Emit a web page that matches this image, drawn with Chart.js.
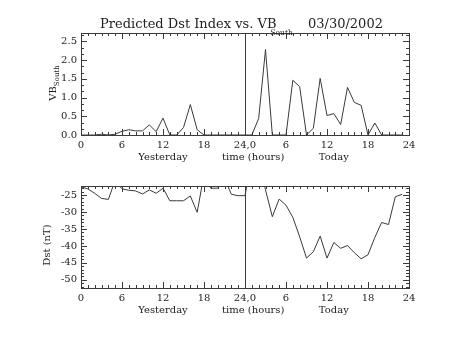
<!DOCTYPE html>
<html>
<head>
<meta charset="utf-8">
<script src="https://cdn.jsdelivr.net/npm/chart.js@4.4.1/dist/chart.umd.min.js"></script>
<style>
  html, body { margin: 0; padding: 0; background: #fff; }
  #wrap { position: relative; width: 453px; height: 340px; }
  .box { position: absolute; left: 0; width: 453px; height: 170px; }
</style>
</head>
<body>
<div id="wrap">
  <div class="box" style="top:0"><canvas id="vb-chart" width="453" height="170"></canvas></div>
  <div class="box" style="top:170px"><canvas id="dst-chart" width="453" height="170"></canvas></div>
</div>
<script>
// Hours since start of yesterday (0-23 yesterday, 24-47 today)
const hours = [0, 1, 2, 3, 4, 5, 6, 7, 8, 9, 10, 11, 12, 13, 14, 15, 16, 17, 18, 19, 20, 21, 22, 23,
               24, 25, 26, 27, 28, 29, 30, 31, 32, 33, 34, 35, 36, 37, 38, 39, 40, 41, 42, 43, 44, 45, 46, 47];

// VB south values
const vbSouth = [0, 0, 0, 0.02, 0, 0.02, 0.1, 0.14, 0.11, 0.11, 0.27, 0.09, 0.45, 0, 0, 0.2, 0.81, 0.14, 0, 0, 0, 0, 0, 0,
                 0, 0, 0.44, 2.28, 0, 0, 0, 1.46, 1.29, 0, 0.18, 1.51, 0.52, 0.57, 0.28, 1.27, 0.87, 0.79, 0, 0.32, 0, 0, 0, 0];

// Predicted Dst (nT)
const dst = [-22.6, -23.2, -24.5, -26.0, -26.3, -20.7, -23.2, -23.6, -23.8, -24.7, -23.5, -24.5, -23.0, -26.7, -26.7, -26.7, -25.3, -30.1, -19.0, -23.0, -23.0, -20.0, -24.8, -25.2,
             -25.2, -14.0, -15.0, -23.5, -31.4, -26.2, -28.0, -31.6, -37.3, -43.6, -41.7, -37.1, -43.6, -39.0, -40.7, -39.9, -42.0, -43.8, -42.6, -37.5, -33.1, -33.7, -25.5, -24.8];

// Tick labels
const hourTicks = [0, 6, 12, 18, 24, 30, 36, 42, 48];
const hourLabels = ["0", "6", "12", "18", "24,0", "6", "12", "18", "24"];
const vbTicks = [0, 0.5, 1.0, 1.5, 2.0, 2.5];
const dstTicks = [-50, -45, -40, -35, -30, -25];

Chart.defaults.font.family = "'DejaVu Serif', serif";
Chart.defaults.font.size = 10;
Chart.defaults.color = "#222";

const INK = "#3a3a3a";

// IDL style frame: box, inward ticks on all sides, day divider and labels
const idlFrame = {
  id: "idlFrame",
  afterDraw(chart, args, opts) {
    const { ctx, chartArea: a } = chart;
    const xs = chart.scales.x, ys = chart.scales.y;
    ctx.save();
    ctx.strokeStyle = INK;
    ctx.lineWidth = 1;
    ctx.strokeRect(a.left + 0.5, a.top + 0.5, a.right - a.left, a.bottom - a.top);

    // x ticks (top and bottom)
    ctx.beginPath();
    const nx = Math.round((xs.max - xs.min) / opts.xMinor);
    for (let i = 0; i <= nx; i++) {
      const v = xs.min + i * opts.xMinor;
      const px = Math.round(xs.getPixelForValue(v)) + 0.5;
      const len = (i % opts.xPer === 0) ? 6 : 3;
      ctx.moveTo(px, a.bottom); ctx.lineTo(px, a.bottom - len);
      ctx.moveTo(px, a.top); ctx.lineTo(px, a.top + len);
    }
    // y ticks (left and right)
    const start = Math.floor(ys.min / opts.yMajor) * opts.yMajor;
    const ny = Math.round((ys.max - start) / opts.yMajor * opts.yPer);
    for (let i = 0; i <= ny; i++) {
      const v = start + i * opts.yMajor / opts.yPer;
      if (v < ys.min - 1e-9 || v > ys.max + 1e-9) continue;
      const py = Math.round(ys.getPixelForValue(v)) + 0.5;
      const len = (i % opts.yPer === 0) ? 6 : 3;
      ctx.moveTo(a.left, py); ctx.lineTo(a.left + len, py);
      ctx.moveTo(a.right, py); ctx.lineTo(a.right - len, py);
    }
    ctx.stroke();

    // divider between yesterday and today
    const dx = Math.round(xs.getPixelForValue(24)) + 0.5;
    ctx.beginPath();
    ctx.moveTo(dx, a.top); ctx.lineTo(dx, a.bottom);
    ctx.stroke();

    // x titles
    ctx.fillStyle = "#222";
    ctx.font = "10px 'DejaVu Serif'";
    ctx.textAlign = "center";
    ctx.textBaseline = "middle";
    const ly = a.bottom + 22.5;
    ctx.fillText("Yesterday", xs.getPixelForValue(12), ly);
    ctx.fillText("time (hours)", xs.getPixelForValue(25.2), ly);
    ctx.fillText("Today", xs.getPixelForValue(37), ly);

    // y title (rotated, optional subscript)
    ctx.save();
    ctx.translate(opts.yTitleX, (a.top + a.bottom) / 2 + opts.yTitleShift);
    ctx.rotate(-Math.PI / 2);
    ctx.textAlign = "left";
    ctx.textBaseline = "alphabetic";
    ctx.font = "10px 'DejaVu Serif'";
    const wMain = ctx.measureText(opts.yTitle).width;
    ctx.font = "7px 'DejaVu Serif'";
    const wSub = opts.ySub ? ctx.measureText(opts.ySub).width : 0;
    let x0 = -(wMain + wSub) / 2;
    ctx.font = "10px 'DejaVu Serif'";
    ctx.fillText(opts.yTitle, x0, 0);
    if (opts.ySub) {
      ctx.font = "7px 'DejaVu Serif'";
      ctx.fillText(opts.ySub, x0 + wMain, 3);
    }
    ctx.restore();

    // main title
    if (opts.title) {
      ctx.textAlign = "left";
      ctx.textBaseline = "alphabetic";
      ctx.font = "13px 'DejaVu Serif'";
      ctx.fillText(opts.title, 100, 28);
      const w = ctx.measureText(opts.title).width;
      ctx.font = "7.5px 'DejaVu Serif'";
      ctx.fillText("South", 100 + w - 6, 35);
      ctx.font = "13px 'DejaVu Serif'";
      ctx.fillText(opts.date, 308, 28);
    }
    ctx.restore();
  }
};

function makeChart(canvasId, values, yMin, yMax, yTicks, yFmt, padTop, xHeight, frameOpts) {
  const ctx = document.getElementById(canvasId).getContext("2d");
  return new Chart(ctx, {
    type: "line",
    data: {
      datasets: [{
        data: hours.map((h, i) => ({ x: h, y: values[i] })),
        borderColor: INK,
        borderWidth: 1,
        pointRadius: 0,
        tension: 0,
        fill: false,
        clip: 0
      }]
    },
    options: {
      responsive: false,
      animation: false,
      devicePixelRatio: 1,
      layout: { padding: { left: 0, right: 44, top: padTop, bottom: 0 } },
      plugins: {
        legend: { display: false },
        tooltip: { enabled: false },
        idlFrame: frameOpts
      },
      scales: {
        x: {
          type: "linear",
          min: 0,
          max: 48,
          grid: { display: false, drawTicks: false },
          border: { display: false },
          afterBuildTicks: s => { s.ticks = hourTicks.map(v => ({ value: v })); },
          ticks: {
            padding: 4,
            maxRotation: 0,
            autoSkip: false,
            callback: (v, i) => hourLabels[i]
          },
          afterFit: s => { s.height = xHeight; }
        },
        y: {
          type: "linear",
          min: yMin,
          max: yMax,
          grid: { display: false, drawTicks: false },
          border: { display: false },
          afterBuildTicks: s => { s.ticks = yTicks.map(v => ({ value: v })); },
          ticks: {
            padding: 4,
            autoSkip: false,
            callback: v => yFmt(v)
          },
          afterFit: s => { s.width = 81; }
        }
      }
    },
    plugins: [idlFrame]
  });
}

makeChart("vb-chart", vbSouth, 0, 2.72, vbTicks, v => v.toFixed(1), 33, 35, {
  xMinor: 1, xPer: 6, yMajor: 0.5, yPer: 3,
  yTitle: "VB", ySub: "South", yTitleX: 56, yTitleShift: -1,
  title: "Predicted Dst Index vs. VB", date: "03/30/2002"
});

makeChart("dst-chart", dst, -52.4, -22.35, dstTicks, v => String(v), 16, 52, {
  xMinor: 1, xPer: 6, yMajor: 5, yPer: 5,
  yTitle: "Dst (nT)", ySub: "", yTitleX: 50, yTitleShift: 8
});
</script>
</body>
</html>
